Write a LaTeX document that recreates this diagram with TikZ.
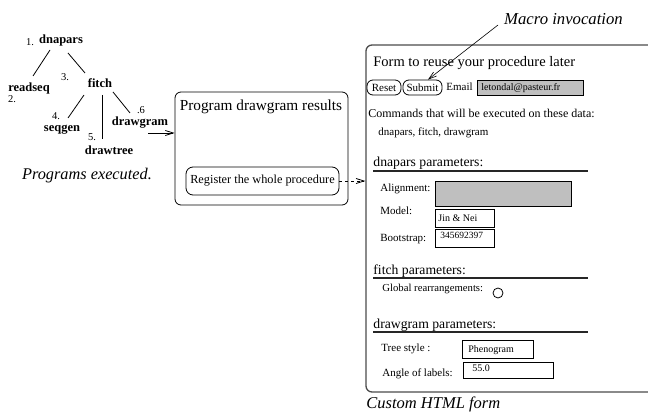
\documentclass[tikz,border=0pt]{standalone}
\usepackage{fontspec}
\setmainfont{Liberation Serif}
\usetikzlibrary{arrows.meta}
\newcommand{\fsz}[1]{\fontsize{#1}{#1}\selectfont}

\begin{document}
\begin{tikzpicture}[x=1pt,y=-1pt,line width=0.8pt,
    prog/.style={inner sep=0pt,font=\fsz{12.5}\bfseries},
    num/.style={inner sep=0pt,font=\fsz{10.5}},
    txt/.style={inner sep=0pt,anchor=base west,font=\fsz{11}},
    sect/.style={inner sep=0pt,anchor=base west,font=\fsz{13.7}},
    btn/.style={draw,rounded corners=6pt,inner sep=0pt,minimum height=15pt,font=\fsz{11}},
    field/.style={draw,line width=1pt,inner sep=0pt,anchor=north west},
    bar/.style={line width=1.3pt,black!85},
    tip/.style={-{Straight Barb[length=8pt,width=5pt]}}]
  \useasboundingbox (0,0) rectangle (648,414);

  % programs that were run
  \node[prog] (dnapars) at (61,40) {dnapars}; \node[num] (n1) at (30,42) {1.};
  \node[prog] (readseq) at (29,88) {readseq}; \node[num] (n2) at (12,99) {2.};
  \node[prog] (fitch) at (100,83) {fitch}; \node[num] (n3) at (65,77) {3.};
  \node[prog] (seqgen) at (62,130) {seqgen}; \node[num] (n4) at (56,116) {4.};
  \node[prog] (drawtree) at (109,150) {drawtree}; \node[num] (n5) at (92,137) {5.};
  \node[prog] (drawgram) at (140,123) {drawgram}; \node[num] (n6) at (141,110) {.6};
  \draw ([shift={(-11,10)}]dnapars.center) -- ([shift={(4,-12)}]readseq.center);
  \draw ([shift={(7,13)}]dnapars.center) -- ([shift={(-15,-10)}]fitch.center);
  \draw ([shift={(-16,12)}]fitch.center) -- ([shift={(6,-12)}]seqgen.center);
  \draw ([shift={(2,12)}]fitch.center) -- ([shift={(-7,-11)}]drawtree.center);
  \draw ([shift={(13,9)}]fitch.center) -- ([shift={(-10,-10)}]drawgram.center);
  \node[inner sep=0pt,font=\fsz{16.3}\itshape] (executed) at (87,176) {Programs executed.};

  % result page
  \node[draw,rounded corners=6pt,minimum width=173pt,minimum height=113pt] (results) at (261.5,148.5) {};
  \node[inner sep=0pt,font=\fsz{15.3}] (restitle) at (261,107) {Program drawgram results};
  \node[draw,rounded corners=7pt,minimum width=153pt,minimum height=28pt,inner sep=0pt,font=\fsz{12.3}] (register) at (262.5,181) {Register the whole procedure};
  \draw[tip] ([shift={(8,10)}]drawgram.center) -- ([shift={(0,-15.5)}]results.west);

  % generated form
  \node[draw=black!70,line width=1.3pt,rounded corners=6pt,minimum width=289pt,minimum height=347pt] (form) at (510.5,218.5) {};
  \draw[tip,dashed] (register.east) -- (register.east -| form.west);
  \node[txt,font=\fsz{14.5}] (formtitle) at (373,67) {Form to reuse your procedure later};
  \node[btn,minimum width=34pt] (reset) at (384,87.5) {Reset};
  \node[btn,minimum width=39pt] (submit) at (422.5,87.5) {Submit};
  \node[txt] (email) at (446,91) {Email};
  \node[field,fill=black!25,minimum width=106pt,minimum height=15pt] (emailbox) at (477,80) {};
  \node[txt,font=\fsz{10}] (address) at ([shift={(4,11)}]emailbox.north west) {letondal@pasteur.fr};
  \node[txt,font=\fsz{12}] (commands) at (368,118) {Commands that will be executed on these data:};
  \node[txt] (cmdlist) at (378,136) {dnapars, fitch, drawgram};

  \node[sect] (dnasect) at (373,167) {dnapars parameters:};
  \draw[bar] (373,171) -- (588,171);
  \node[txt] (alignment) at (380,192) {Alignment:};
  \node[field,fill=black!25,minimum width=136pt,minimum height=25pt] (alignbox) at (435,181) {};
  \node[txt] (model) at (380,215) {Model:};
  \node[field,minimum width=59pt,minimum height=18pt] (modelbox) at (435,209) {};
  \node[txt,font=\fsz{10}] (modelval) at ([shift={(3,13)}]modelbox.north west) {Jin \& Nei};
  \node[txt] (bootstrap) at (380,242) {Bootstrap:};
  \node[field,minimum width=59pt,minimum height=18pt] (bootbox) at (435,229) {};
  \node[txt,font=\fsz{9.5}] (bootval) at ([shift={(5,10)}]bootbox.north west) {345692397};

  \node[sect] (fitchsect) at (373,274) {fitch parameters:};
  \draw[bar] (373,278) -- (588,278);
  \node[txt,font=\fsz{10.7}] (global) at (382,291) {Global rearrangements:};
  \node[draw,circle,inner sep=0pt,minimum size=10pt] (radio) at (498,293) {};

  \node[sect] (drawsect) at (373,328) {drawgram parameters:};
  \draw[bar] (373,332) -- (588,332);
  \node[txt] (treestyle) at (381,351) {Tree style :};
  \node[field,minimum width=71pt,minimum height=18pt] (stylebox) at (462,340) {};
  \node[txt,font=\fsz{10}] (styleval) at ([shift={(6,12)}]stylebox.north west) {Phenogram};
  \node[txt] (angle) at (382,376) {Angle of labels:};
  \node[field,minimum width=90pt,minimum height=16pt] (anglebox) at (463,362) {};
  \node[txt,font=\fsz{10}] (angleval) at ([shift={(9,9)}]anglebox.north west) {55.0};

  \node[txt,font=\fsz{16.5}\itshape] (custom) at (366,408) {Custom HTML form};
  \node[inner sep=0pt,font=\fsz{16.7}\itshape] (macro) at (563.5,19) {Macro invocation};
  \draw[tip,line width=0.6pt] ([shift={(-65.5,6)}]macro.center) -- ([shift={(5.5,0)}]submit.north);
\end{tikzpicture}
\end{document}
